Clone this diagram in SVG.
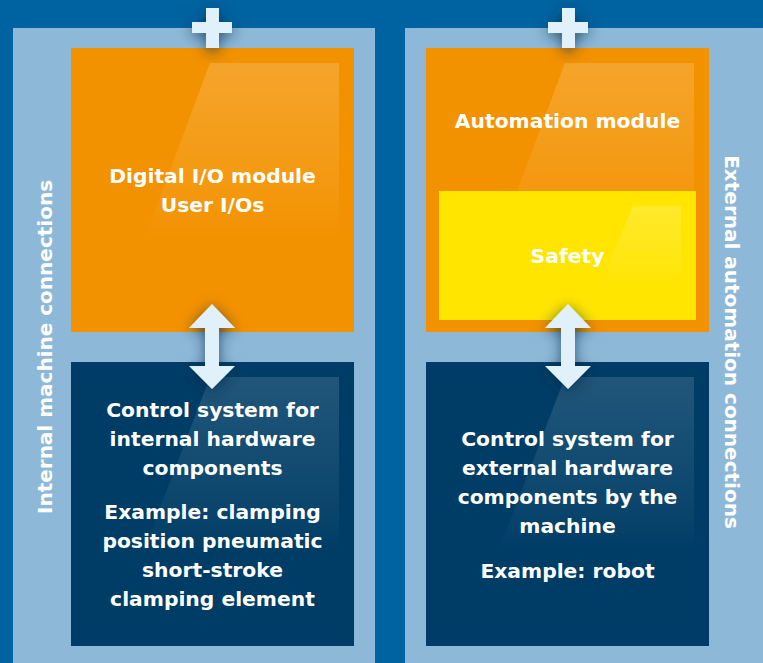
<svg xmlns="http://www.w3.org/2000/svg" width="763" height="663" viewBox="0 0 763 663">
<defs>
<linearGradient id="hlO" x1="0" y1="0" x2="0" y2="1">
<stop offset="0" stop-color="#ffffff" stop-opacity="0.17"/>
<stop offset="0.7" stop-color="#ffffff" stop-opacity="0.06"/>
<stop offset="1" stop-color="#ffffff" stop-opacity="0"/>
</linearGradient>
<linearGradient id="hlN" x1="0" y1="0" x2="0" y2="1">
<stop offset="0" stop-color="#ffffff" stop-opacity="0.13"/>
<stop offset="0.7" stop-color="#ffffff" stop-opacity="0.05"/>
<stop offset="1" stop-color="#ffffff" stop-opacity="0"/>
</linearGradient>
<filter id="glow" x="-80%" y="-80%" width="260%" height="260%">
<feGaussianBlur in="SourceAlpha" stdDeviation="7" result="b"/>
<feOffset in="b" dx="0" dy="3" result="o"/>
<feFlood flood-color="#002a4a" flood-opacity="0.7"/>
<feComposite in2="o" operator="in" result="s"/>
<feMerge><feMergeNode in="s"/><feMergeNode in="SourceGraphic"/></feMerge>
</filter>
</defs>
<style>
.panel{fill:#8DB8D7}
.orange{fill:#F39200}
.navy{fill:#003D66}
.yellow{fill:#FFE500}
.conn{fill:#E1F1FC}
.t{font-family:"DejaVu Sans",sans-serif;font-weight:bold;font-size:20.3px;fill:#ffffff;text-anchor:middle}
.v{font-family:"DejaVu Sans",sans-serif;font-weight:bold;font-size:20px;fill:#ffffff;text-anchor:middle}
</style>
<rect x="0" y="0" width="763" height="663" fill="#0063A1"/>
<g id="panel-internal">
<rect class="panel" x="13" y="28" width="362" height="635"/>
<text class="v" transform="translate(52,347) rotate(-90)">Internal machine connections</text>
</g>
<g id="panel-external">
<rect class="panel" x="405" y="28" width="358" height="635"/>
<text class="v" transform="translate(725,342) rotate(90)">External automation connections</text>
</g>
<g id="digital-io">
<rect class="orange" x="71" y="48" width="283" height="284"/>
<polygon points="210,63 339,63 339,240 144,240" fill="url(#hlO)"/>
<text class="t" x="212.5" y="183">Digital I/O module</text>
<text class="t" x="212.5" y="212">User I/Os</text>
</g>
<g id="internal-control">
<rect class="navy" x="71" y="362" width="283" height="284"/>
<polygon points="210,377 339,377 339,550 144,550" fill="url(#hlN)"/>
<text class="t" x="212.5" y="417">Control system for</text>
<text class="t" x="212.5" y="446">internal hardware</text>
<text class="t" x="212.5" y="475">components</text>
<text class="t" x="212.5" y="519">Example: clamping</text>
<text class="t" x="212.5" y="548">position pneumatic</text>
<text class="t" x="212.5" y="577">short-stroke</text>
<text class="t" x="212.5" y="606">clamping element</text>
</g>
<g id="automation-module">
<rect class="orange" x="426" y="48" width="283" height="284"/>
<polygon points="565,63 694,63 694,240 499,240" fill="url(#hlO)"/>
<text class="t" x="567.5" y="128">Automation module</text>
</g>
<g id="safety">
<rect class="yellow" x="439" y="191" width="257" height="129"/>
<polygon points="633,206 681,206 681,290 598,290" fill="url(#hlO)"/>
<text class="t" x="567.5" y="263">Safety</text>
</g>
<g id="external-control">
<rect class="navy" x="426" y="362" width="283" height="284"/>
<polygon points="565,377 694,377 694,550 499,550" fill="url(#hlN)"/>
<text class="t" x="567.5" y="446">Control system for</text>
<text class="t" x="567.5" y="475">external hardware</text>
<text class="t" x="567.5" y="504">components by the</text>
<text class="t" x="567.5" y="533">machine</text>
<text class="t" x="567.5" y="578">Example: robot</text>
</g>
<g id="connectors" filter="url(#glow)">
<path class="conn" d="M206,8 H219 V22 H232 V33 H219 V48 H206 V33 H192 V22 H206 Z"/>
<path class="conn" d="M562,8 H575 V22 H588 V33 H575 V48 H562 V33 H548 V22 H562 Z"/>
<path class="conn" d="M212,304 L235,328 H219 V366 H235 L212,389 L189,366 H205 V328 H189 Z"/>
<path class="conn" d="M568,304 L591,328 H575 V366 H591 L568,389 L545,366 H561 V328 H545 Z"/>
</g>
</svg>
